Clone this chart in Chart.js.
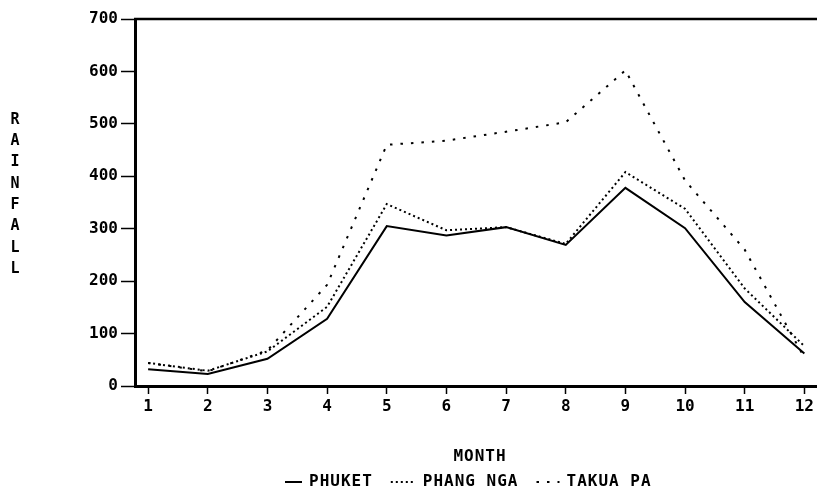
<!DOCTYPE html>
<html>
<head>
<meta charset="utf-8">
<script src="https://cdn.jsdelivr.net/npm/chart.js@4.4.1/dist/chart.umd.min.js"></script>
<style>
  html, body { margin: 0; padding: 0; background: #fff; }
  canvas { display: block; }
</style>
</head>
<body>
<canvas id="c" width="817" height="496"></canvas>
<script>
// ---- data ----
const months = [1, 2, 3, 4, 5, 6, 7, 8, 9, 10, 11, 12];
const phuket   = [32, 23, 52, 128, 305, 287, 303, 269, 378, 301, 160, 62];
const phangNga = [44, 29, 66, 151, 347, 297, 303, 271, 408, 338, 186, 76];
const takuaPa  = [44, 28, 68, 193, 460, 468, 485, 503, 602, 392, 260, 54];
const seriesNames = ['PHUKET', 'PHANG NGA', 'TAKUA PA'];
const yTicks = [0, 100, 200, 300, 400, 500, 600, 700];
const xTitle = 'MONTH';
const yTitle = 'RAINFALL';

const FONT = 'DejaVu Sans Mono';
const dashes = [[], [2, 3], [2.5, 8]];
const legendLineLen = [17, 25, 23];

function pts(arr) { return months.map((m, i) => ({ x: m, y: arr[i] })); }

const bgPlugin = {
  id: 'bg',
  beforeDraw(chart) {
    const ctx = chart.ctx;
    ctx.save();
    ctx.fillStyle = '#fff';
    ctx.fillRect(0, 0, chart.width, chart.height);
    ctx.restore();
  }
};

const decorPlugin = {
  id: 'decor',
  afterDraw(chart) {
    const ctx = chart.ctx;
    const a = chart.chartArea;
    ctx.save();
    // top frame line
    ctx.strokeStyle = '#000';
    ctx.lineWidth = 2.5;
    ctx.beginPath();
    ctx.moveTo(a.left - 1, a.top);
    ctx.lineTo(chart.width, a.top);
    ctx.stroke();

    ctx.fillStyle = '#000';
    ctx.font = 'bold 15px "' + FONT + '"';
    ctx.textBaseline = 'middle';
    // vertical stacked y title
    ctx.textAlign = 'center';
    const letters = yTitle.split('');
    const y0 = 120, step = 21.3;
    letters.forEach((ch, i) => ctx.fillText(ch, 15, y0 + i * step));

    // x title
    ctx.font = 'bold 16px "' + FONT + '"';
    try { ctx.letterSpacing = '1px'; } catch (e) {}
    ctx.fillText(xTitle, 480, 457);

    // legend
    ctx.textAlign = 'left';
    let x = 285;
    const ly = 482;
    seriesNames.forEach((name, i) => {
      ctx.setLineDash(dashes[i]);
      ctx.lineWidth = 2;
      ctx.beginPath();
      ctx.moveTo(x, ly);
      ctx.lineTo(x + legendLineLen[i], ly);
      ctx.stroke();
      ctx.setLineDash([]);
      x += legendLineLen[i] + 7;
      ctx.fillText(name, x, ly);
      x += ctx.measureText(name).width + 18;
    });
    ctx.restore();
  }
};

const ds = (label, arr, i) => ({
  label,
  data: pts(arr),
  borderColor: '#000',
  backgroundColor: '#000',
  borderWidth: 2,
  borderDash: dashes[i],
  borderCapStyle: 'butt',
  pointRadius: 0,
  tension: 0,
  fill: false
});

new Chart(document.getElementById('c'), {
  type: 'line',
  data: {
    datasets: [
      ds(seriesNames[0], phuket, 0),
      ds(seriesNames[1], phangNga, 1),
      ds(seriesNames[2], takuaPa, 2)
    ]
  },
  options: {
    responsive: false,
    animation: false,
    devicePixelRatio: 1,
    layout: { padding: { top: 19, right: 0, left: 0, bottom: 0 } },
    plugins: { legend: { display: false }, tooltip: { enabled: false } },
    scales: {
      x: {
        type: 'linear',
        min: 0.78,
        max: 12.2,
        afterBuildTicks: (s) => { s.ticks = months.map(v => ({ value: v })); },
        afterFit: (s) => { s.height = 110; },
        grid: { drawOnChartArea: false, drawTicks: true, tickLength: 8, tickColor: '#000', tickWidth: 1.5 },
        border: { display: true, color: '#000', width: 3 },
        ticks: { color: '#000', padding: 3, font: { family: FONT, size: 16, weight: 'bold' }, maxRotation: 0, autoSkip: false,
                 callback: (v) => String(v) }
      },
      y: {
        min: 0,
        max: 700,
        afterBuildTicks: (s) => { s.ticks = yTicks.map(v => ({ value: v })); },
        afterFit: (s) => { s.width = 135; },
        grid: { drawOnChartArea: false, drawTicks: true, tickLength: 14, tickColor: '#000', tickWidth: 1.5 },
        border: { display: true, color: '#000', width: 3 },
        ticks: { color: '#000', padding: 3, font: { family: FONT, size: 16, weight: 'bold' }, callback: (v) => String(v) }
      }
    }
  },
  plugins: [bgPlugin, decorPlugin]
});
</script>
</body>
</html>
